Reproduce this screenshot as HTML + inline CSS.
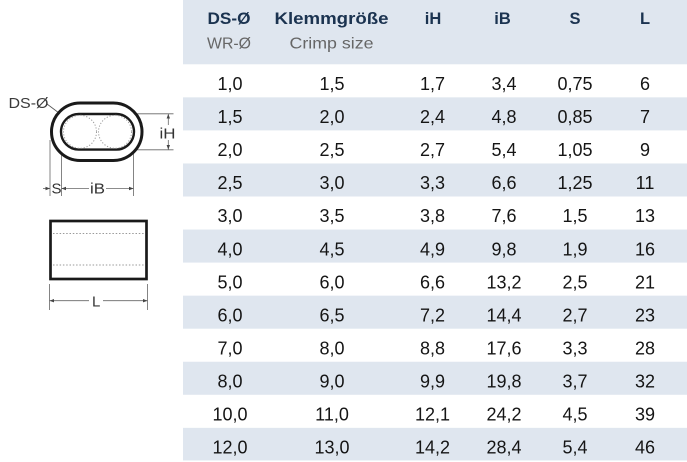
<!DOCTYPE html>
<html>
<head>
<meta charset="utf-8">
<style>
html,body{margin:0;padding:0;background:#fff;}
body{width:687px;height:462px;overflow:hidden;}
svg{display:block;}
text{font-family:"Liberation Sans",sans-serif;}
.h{font-weight:bold;font-size:16.5px;fill:#1b3350;}
.s{font-size:16px;fill:#666;}
.d{font-size:18px;fill:#151515;}
.l{font-size:15px;fill:#333;}
</style>
</head>
<body>
<svg width="687" height="462" viewBox="0 0 687 462" xmlns="http://www.w3.org/2000/svg">
  <!-- table backgrounds -->
  <rect x="183" y="0" width="504" height="64.3" fill="#dfe6ef"/>
  <rect x="183" y="97.35" width="504" height="33.05" fill="#dfe6ef"/>
  <rect x="183" y="163.45" width="504" height="33.05" fill="#dfe6ef"/>
  <rect x="183" y="229.55" width="504" height="33.05" fill="#dfe6ef"/>
  <rect x="183" y="295.65" width="504" height="33.05" fill="#dfe6ef"/>
  <rect x="183" y="361.75" width="504" height="33.05" fill="#dfe6ef"/>
  <rect x="183" y="427.85" width="504" height="32.6" fill="#dfe6ef"/>

  <!-- header -->
  <g text-anchor="middle">
    <text class="h" x="229" y="24" textLength="43" lengthAdjust="spacingAndGlyphs">DS-Ø</text>
    <text class="h" x="331.5" y="24" textLength="114" lengthAdjust="spacingAndGlyphs">Klemmgröße</text>
    <text class="h" x="433" y="24">iH</text>
    <text class="h" x="502.5" y="24">iB</text>
    <text class="h" x="575" y="24">S</text>
    <text class="h" x="645" y="24">L</text>
    <text class="s" x="229" y="48.5" textLength="44" lengthAdjust="spacingAndGlyphs">WR-Ø</text>
    <text class="s" x="331.5" y="48.5" textLength="84" lengthAdjust="spacingAndGlyphs">Crimp size</text>
  </g>

  <!-- data -->
  <g text-anchor="middle" class="d">
    <g transform="translate(0,90)">
      <text class="d" x="230" y="0">1,0</text><text class="d" x="332" y="0">1,5</text><text class="d" x="432.5" y="0">1,7</text><text class="d" x="504" y="0">3,4</text><text class="d" x="575" y="0">0,75</text><text class="d" x="645" y="0">6</text>
    </g>
    <g transform="translate(0,123.05)">
      <text class="d" x="230" y="0">1,5</text><text class="d" x="332" y="0">2,0</text><text class="d" x="432.5" y="0">2,4</text><text class="d" x="504" y="0">4,8</text><text class="d" x="575" y="0">0,85</text><text class="d" x="645" y="0">7</text>
    </g>
    <g transform="translate(0,156.1)">
      <text class="d" x="230" y="0">2,0</text><text class="d" x="332" y="0">2,5</text><text class="d" x="432.5" y="0">2,7</text><text class="d" x="504" y="0">5,4</text><text class="d" x="575" y="0">1,05</text><text class="d" x="645" y="0">9</text>
    </g>
    <g transform="translate(0,189.15)">
      <text class="d" x="230" y="0">2,5</text><text class="d" x="332" y="0">3,0</text><text class="d" x="432.5" y="0">3,3</text><text class="d" x="504" y="0">6,6</text><text class="d" x="575" y="0">1,25</text><text class="d" x="645" y="0">11</text>
    </g>
    <g transform="translate(0,222.2)">
      <text class="d" x="230" y="0">3,0</text><text class="d" x="332" y="0">3,5</text><text class="d" x="432.5" y="0">3,8</text><text class="d" x="504" y="0">7,6</text><text class="d" x="575" y="0">1,5</text><text class="d" x="645" y="0">13</text>
    </g>
    <g transform="translate(0,255.25)">
      <text class="d" x="230" y="0">4,0</text><text class="d" x="332" y="0">4,5</text><text class="d" x="432.5" y="0">4,9</text><text class="d" x="504" y="0">9,8</text><text class="d" x="575" y="0">1,9</text><text class="d" x="645" y="0">16</text>
    </g>
    <g transform="translate(0,288.3)">
      <text class="d" x="230" y="0">5,0</text><text class="d" x="332" y="0">6,0</text><text class="d" x="432.5" y="0">6,6</text><text class="d" x="504" y="0">13,2</text><text class="d" x="575" y="0">2,5</text><text class="d" x="645" y="0">21</text>
    </g>
    <g transform="translate(0,321.35)">
      <text class="d" x="230" y="0">6,0</text><text class="d" x="332" y="0">6,5</text><text class="d" x="432.5" y="0">7,2</text><text class="d" x="504" y="0">14,4</text><text class="d" x="575" y="0">2,7</text><text class="d" x="645" y="0">23</text>
    </g>
    <g transform="translate(0,354.4)">
      <text class="d" x="230" y="0">7,0</text><text class="d" x="332" y="0">8,0</text><text class="d" x="432.5" y="0">8,8</text><text class="d" x="504" y="0">17,6</text><text class="d" x="575" y="0">3,3</text><text class="d" x="645" y="0">28</text>
    </g>
    <g transform="translate(0,387.45)">
      <text class="d" x="230" y="0">8,0</text><text class="d" x="332" y="0">9,0</text><text class="d" x="432.5" y="0">9,9</text><text class="d" x="504" y="0">19,8</text><text class="d" x="575" y="0">3,7</text><text class="d" x="645" y="0">32</text>
    </g>
    <g transform="translate(0,420.5)">
      <text class="d" x="230" y="0">10,0</text><text class="d" x="332" y="0">11,0</text><text class="d" x="432.5" y="0">12,1</text><text class="d" x="504" y="0">24,2</text><text class="d" x="575" y="0">4,5</text><text class="d" x="645" y="0">39</text>
    </g>
    <g transform="translate(0,453.55)">
      <text class="d" x="230" y="0">12,0</text><text class="d" x="332" y="0">13,0</text><text class="d" x="432.5" y="0">14,2</text><text class="d" x="504" y="0">28,4</text><text class="d" x="575" y="0">5,4</text><text class="d" x="645" y="0">46</text>
    </g>
  </g>

  <!-- drawing: cross-section -->
  <g fill="none" stroke="#666" stroke-width="0.8">
    <line x1="131" y1="113.8" x2="173.5" y2="113.8"/>
    <line x1="131" y1="149.8" x2="173.5" y2="149.8"/>
    <line x1="168.3" y1="114" x2="168.3" y2="125"/>
    <line x1="168.3" y1="140" x2="168.3" y2="149.6"/>
    <line x1="50" y1="140" x2="50" y2="196"/>
    <line x1="61.5" y1="146" x2="61.5" y2="196"/>
    <line x1="133.5" y1="146" x2="133.5" y2="196"/>
    <line x1="43" y1="188.5" x2="50" y2="188.5"/>
    <line x1="61.5" y1="188.5" x2="66" y2="188.5"/>
    <line x1="64" y1="188.5" x2="89" y2="188.5"/>
    <line x1="106" y1="188.5" x2="133.5" y2="188.5"/>
    <line x1="47" y1="104" x2="67" y2="119" stroke="#555"/>
  </g>
  <g fill="#444">
    <polygon points="168.3,114 166.6,118.5 170,118.5"/>
    <polygon points="168.3,149.6 166.6,145 170,145"/>
    <polygon points="61.5,188.5 66,186.8 66,190.2"/>
    <polygon points="133.5,188.5 129,186.8 129,190.2"/>
    <polygon points="50,188.5 45.5,186.8 45.5,190.2"/>
  </g>
  <rect x="51.5" y="103" width="90.5" height="57.5" rx="28.7" ry="28.7" fill="#fff" stroke="#1a1a1a" stroke-width="3"/>
  <rect x="61" y="114" width="73" height="35.6" rx="17.8" ry="17.8" fill="#fff" stroke="#1a1a1a" stroke-width="2.4"/>
  <g fill="none" stroke="#9a9a9a" stroke-width="1" stroke-dasharray="1.2 1.8">
    <circle cx="80" cy="131.8" r="16.5"/>
    <circle cx="115" cy="131.8" r="16.5"/>
  </g>
  <text class="l" x="8.5" y="108" font-size="16" textLength="40" lengthAdjust="spacingAndGlyphs" style="fill:#3a3a3a">DS-Ø</text>
  <text class="l" x="159.5" y="138.5" font-size="16" textLength="16" lengthAdjust="spacingAndGlyphs">iH</text>
  <text class="l" x="51.5" y="193.5" font-size="15">S</text>
  <text class="l" x="90" y="193.5" font-size="15" textLength="15" lengthAdjust="spacingAndGlyphs">iB</text>

  <!-- drawing: side view -->
  <rect x="50.5" y="221" width="96" height="58" fill="#fff" stroke="#1a1a1a" stroke-width="2.7"/>
  <g stroke="#9a9a9a" stroke-width="1" stroke-dasharray="1.5 1.8">
    <line x1="53" y1="233.5" x2="144" y2="233.5"/>
    <line x1="53" y1="265" x2="144" y2="265"/>
  </g>
  <g fill="none" stroke="#666" stroke-width="0.8">
    <line x1="49.5" y1="284" x2="49.5" y2="310"/>
    <line x1="147.5" y1="284" x2="147.5" y2="310"/>
    <line x1="49.5" y1="300.7" x2="89" y2="300.7"/>
    <line x1="103" y1="300.7" x2="147.5" y2="300.7"/>
  </g>
  <g fill="#444">
    <polygon points="49.5,300.7 54,299 54,302.4"/>
    <polygon points="147.5,300.7 143,299 143,302.4"/>
  </g>
  <text class="l" x="92" y="306.5" font-size="15">L</text>
</svg>
</body>
</html>
